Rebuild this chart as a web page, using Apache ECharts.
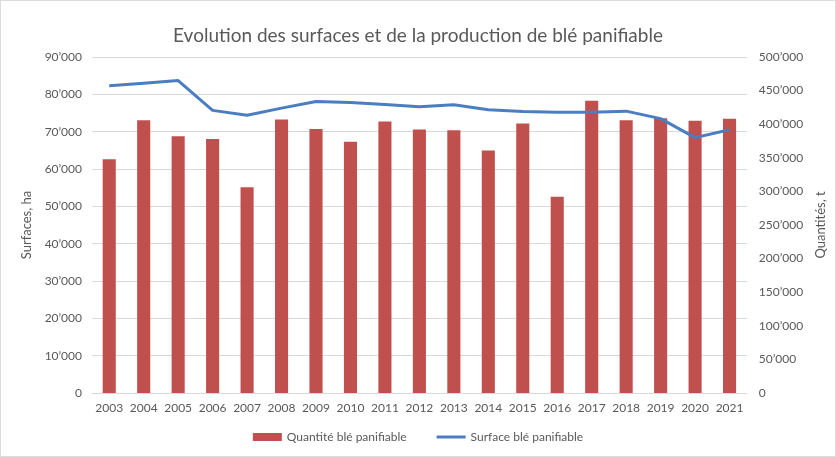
<!DOCTYPE html>
<html>
<head>
<meta charset="utf-8">
<script src="https://cdn.jsdelivr.net/npm/echarts@6/dist/echarts.min.js"></script>
<style>
html,body{margin:0;padding:0;background:#fff;}
#main{width:834px;height:455px;border:1px solid #dcdcdc;}
</style>
</head>
<body>
<div id="main"></div>
<script>
var years = ['2003','2004','2005','2006','2007','2008','2009','2010','2011','2012','2013','2014','2015','2016','2017','2018','2019','2020','2021'];
// Quantité blé panifiable (t) - axe de droite
var quantite = [348000, 406000, 382000, 378000, 306000, 407000, 393000, 374000, 404000, 392000, 391000, 361000, 401000, 292000, 435000, 406000, 409000, 405000, 408000];
// Surface blé panifiable (ha) - axe de gauche
var surface = [82300, 83000, 83700, 75700, 74400, 76300, 78100, 77800, 77300, 76700, 77200, 75900, 75400, 75200, 75200, 75500, 73500, 68400, 70500];

function fmt(v){
    return String(v).replace(/\B(?=(\d{3})+(?!\d))/g, '’');
}

var myChart = echarts.init(document.getElementById('main'));
var font = "Lato, 'Open Sans', sans-serif";
var option = {
    backgroundColor:'#fff',
    textStyle:{fontFamily:font},
    title:{
        text:'Evolution des surfaces et de la production de blé panifiable',
        left:'center',
        top:20,
        textStyle:{fontFamily:font, fontSize:19, fontWeight:'normal', color:'#595959'}
    },
    legend:{
        bottom:8,
        itemGap:30,
        itemWidth:29,
        itemHeight:8,
        textStyle:{fontFamily:font, fontSize:12, color:'#595959'},
        data:[
            {name:'Quantité blé panifiable', icon:'rect'},
            // trait fin centré, sans symbole
            {name:'Surface blé panifiable', icon:'path://M0,0 M0,8 M0,2.5 L29,2.5 L29,5.5 L0,5.5 Z'}
        ]
    },
    grid:{left:91, right:85, top:56, bottom:63},
    xAxis:[{
        type:'category',
        data:years,
        axisLine:{lineStyle:{color:'#d9d9d9'}},
        axisTick:{show:false},
        axisLabel:{interval:0, color:'#595959', fontSize:12, margin:9}
    }],
    yAxis:[{
        type:'value',
        min:0, max:90000, interval:10000,
        name:'Surfaces, ha',
        nameLocation:'middle',
        nameGap:46,
        nameRotate:90,
        nameTextStyle:{color:'#595959', fontSize:13, fontFamily:font},
        axisLabel:{color:'#595959', fontSize:12, margin:10, formatter:fmt},
        splitLine:{lineStyle:{color:'#d9d9d9'}},
        axisLine:{show:false}
    },{
        type:'value',
        min:0, max:500000, interval:50000,
        name:'Quantités, t',
        nameLocation:'middle',
        nameGap:52,
        nameRotate:90,
        nameTextStyle:{color:'#595959', fontSize:13, fontFamily:font},
        axisLabel:{color:'#595959', fontSize:12, margin:12, formatter:fmt},
        splitLine:{show:false},
        axisLine:{show:false}
    }],
    series:[{
        name:'Quantité blé panifiable',
        type:'bar',
        yAxisIndex:1,
        barWidth:'38%',
        itemStyle:{color:'#C0504D'},
        data:quantite
    },{
        name:'Surface blé panifiable',
        type:'line',
        yAxisIndex:0,
        symbol:'none',
        lineStyle:{color:'#4A7EC1', width:3},
        itemStyle:{color:'#4A7EC1'},
        data:surface
    }]
};
myChart.setOption(option);
</script>
</body>
</html>
